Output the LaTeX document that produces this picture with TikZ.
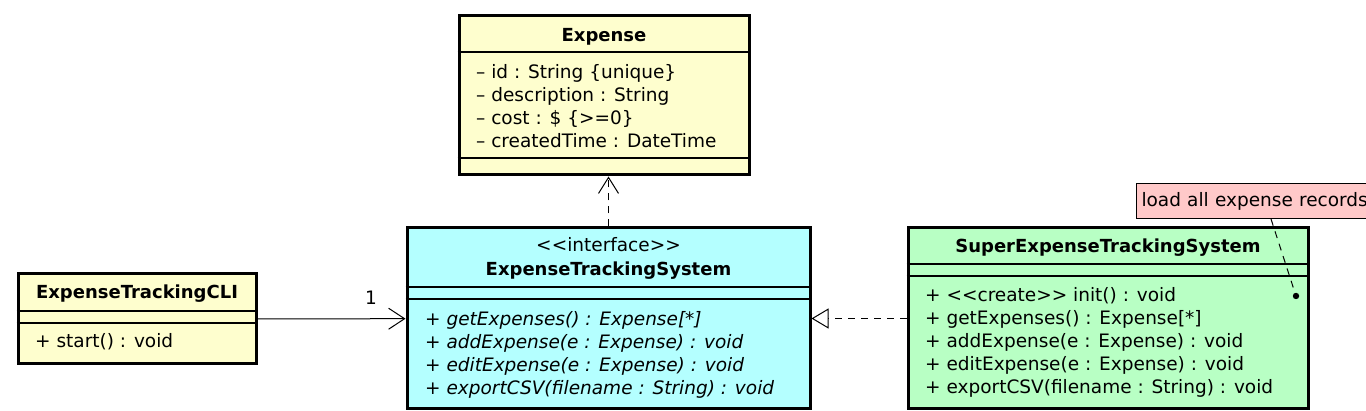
\documentclass[tikz,border=0pt]{standalone}
\usepackage{fontspec}
\setmainfont{DejaVu Sans}
\usetikzlibrary{arrows.meta}
\definecolor{clsyellow}{HTML}{FEFECE}
\definecolor{ifcyan}{HTML}{B4FFFF}
\definecolor{subgreen}{HTML}{B8FFC4}
\definecolor{notepink}{HTML}{FFC9C9}
\begin{document}
\begin{tikzpicture}[x=1pt,y=-1pt,
    font=\fontsize{18.5}{23}\selectfont,
    cls/.style={draw,line width=3pt,inner sep=0pt},
    sep/.style={line width=1.3pt},
    txt/.style={anchor=base west,inner sep=0pt},
    optxt/.style={txt,font=\fontsize{18.5}{23}\selectfont\itshape},
    ttl/.style={anchor=base,inner sep=0pt,font=\fontsize{18}{23}\selectfont\bfseries},
    dashline/.style={dash pattern=on 7pt off 6pt,line width=1pt},
    assoc/.style={-{Straight Barb[length=16pt,width=21pt,line width=1pt]},line width=1pt},
    realize/.style={dash pattern=on 7pt off 6pt,line width=1pt,-{Triangle[open,length=17pt,width=20pt,line width=1pt,fill=white]}}]
  \useasboundingbox (0,0) rectangle (1366,411);
  % classes
  \node[cls,fill=clsyellow,minimum width=290pt,minimum height=159pt] (E) at (604,95.5) {};
  \node[cls,fill=ifcyan,minimum width=403pt,minimum height=181pt] (I) at (608.5,318.5) {};
  \node[cls,fill=clsyellow,minimum width=238pt,minimum height=90pt] (C) at (137,319) {};
  \node[cls,fill=subgreen,minimum width=400pt,minimum height=181pt] (S) at (1108,318.5) {};
  \node[draw,line width=1pt,fill=notepink,anchor=north west,minimum width=280pt,minimum height=35pt,
    inner xsep=5pt,text width=270pt,align=left] (N) at (1136,183) {load all expense records};
  % compartments
  \draw[sep] (E.west |- 0,52) -- (E.east |- 0,52);
  \draw[sep] (E.west |- 0,158) -- (E.east |- 0,158);
  \draw[sep] (I.west |- 0,287) -- (I.east |- 0,287);
  \draw[sep] (I.west |- 0,299) -- (I.east |- 0,299);
  \draw[sep] (C.west |- 0,311) -- (C.east |- 0,311);
  \draw[sep] (C.west |- 0,323) -- (C.east |- 0,323);
  \draw[sep] (S.west |- 0,264) -- (S.east |- 0,264);
  \draw[sep] (S.west |- 0,276) -- (S.east |- 0,276);
  % texts
  \node[ttl] (Et) at (604,42) {Expense};
  \node[txt] (E1) at (476,79) {– id : String \{unique\}};
  \node[txt] (E2) at (476,102) {– description : String};
  \node[txt] (E3) at (476,125) {– cost : \$ \{>=0\}};
  \node[txt] (E4) at (476,148) {– createdTime : DateTime};
  \node[anchor=base,inner sep=0pt] (Is) at (608.5,252) {<{}<interface>{}>};
  \node[ttl] (It) at (608.5,275.5) {ExpenseTrackingSystem};
  \node[optxt] (I1) at (425,326) {+ getExpenses() : Expense[*]};
  \node[optxt] (I2) at (425,349) {+ addExpense(e : Expense) : void};
  \node[optxt] (I3) at (425,372) {+ editExpense(e : Expense) : void};
  \node[optxt] (I4) at (425,395) {+ exportCSV(filename : String) : void};
  \node[ttl] (Ct) at (137,299) {ExpenseTrackingCLI};
  \node[txt] (C1) at (35,348) {+ start() : void};
  \node[ttl] (St) at (1108,253) {SuperExpenseTrackingSystem};
  \node[txt] (S1) at (925,302) {+ <{}<create>{}> init() : void};
  \node[txt] (S2) at (925,325) {+ getExpenses() : Expense[*]};
  \node[txt] (S3) at (925,348) {+ addExpense(e : Expense) : void};
  \node[txt] (S4) at (925,371) {+ editExpense(e : Expense) : void};
  \node[txt] (S5) at (925,394) {+ exportCSV(filename : String) : void};
  % relations
  \draw[assoc] (C) -- (I);
  \node (mult) at (371,298) {1};
  \draw[realize] (S) -- (I);
  \draw[dashline,-{Straight Barb[length=16pt,width=20pt,line width=1pt]}] (I.north) -- (I.north |- E.south);
  \coordinate (pin) at (1296,296);
  \fill (pin) circle (3.2pt);
  \draw[dashline] ([xshift=135pt]N.south west) -- (pin);
\end{tikzpicture}
\end{document}
